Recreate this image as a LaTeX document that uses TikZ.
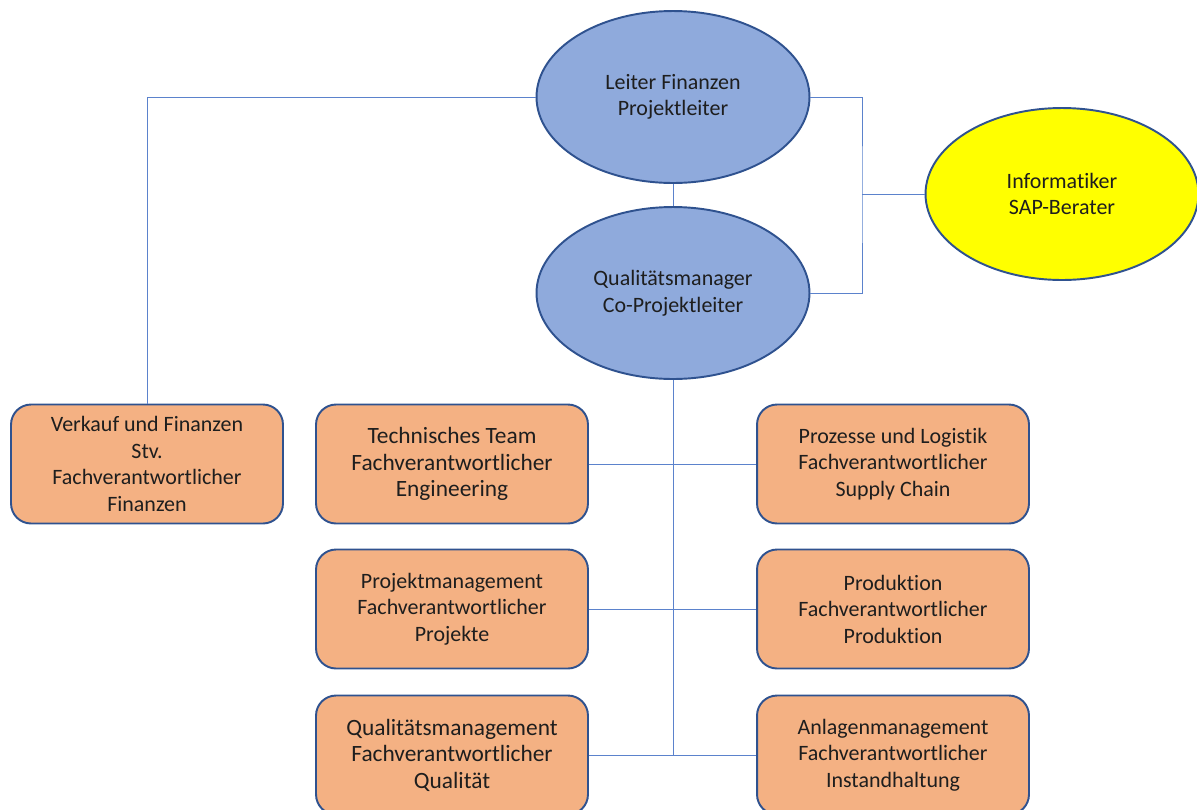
\documentclass[tikz,border=0pt]{standalone}
\usepackage{fontspec}
\setmainfont{Carlito}[Ligatures={NoCommon,NoRare,NoContextual}, Contextuals=NoAlternate]
\usepackage{tikz}
\usetikzlibrary{positioning, shapes.geometric}
\usepackage{xcolor}

\definecolor{rahmen}{HTML}{2F528F}
\definecolor{linie}{HTML}{5B82CC}
\definecolor{blaufill}{HTML}{8FAADC}
\definecolor{orangefill}{HTML}{F4B183}
\definecolor{gelbfill}{HTML}{FFFF00}
\definecolor{schrift}{HTML}{1E1E1E}

\begin{document}
\begin{tikzpicture}[x=0.02cm, y=-0.02cm,
    role/.style={ellipse, draw=rahmen, line width=1.1pt, fill=blaufill, text=schrift, minimum width=5.46cm, minimum height=3.44cm, inner sep=0pt, align=center, font=\fontsize{12.5}{15.1}\selectfont},
    team/.style={rectangle, rounded corners=0.4cm, draw=rahmen, line width=1.1pt, fill=orangefill, text=schrift, minimum width=5.44cm, minimum height=2.38cm, inner sep=0pt, align=center, font=\fontsize{12.5}{15.1}\selectfont},
    bigteam/.style={team, font=\fontsize{13.3}{15.1}\selectfont},
    link/.style={draw=linie, line width=0.5pt}]

        \clip (0,0) rectangle (1197,809);

        % Leitung (Ellipsen)
        \node[role] (leiter) at (673,97) {Leiter Finanzen\\Projektleiter};
        \node[role] (qm) at (673,293) {Qualitätsmanager\\Co-Projektleiter};
        \node[role, fill=gelbfill] (info) at (1062,194) {Informatiker\\SAP-Berater};

        % Fachverantwortliche (Boxen)
        \node[team] (verkauf) at (147,464) {Verkauf und Finanzen\\Stv.\\Fachverantwortlicher\\Finanzen};
        \node[bigteam] (technik) at (452,464) {Technisches Team\\Fachverantwortlicher\\Engineering};
        \node[team] (prozesse) at (893,464) {Prozesse und Logistik\\Fachverantwortlicher\\Supply Chain};
        \node[team] (projekt) at (452,609) {Projektmanagement\\Fachverantwortlicher\\Projekte};
        \node[team] (produktion) at (893,609) {Produktion\\Fachverantwortlicher\\Produktion};
        \node[bigteam] (qualitaet) at (452,755) {Qualitätsmanagement\\Fachverantwortlicher\\Qualität};
        \node[team] (anlagen) at (893,755) {Anlagenmanagement\\Fachverantwortlicher\\Instandhaltung};

        % Hilfspunkte
        \coordinate (rjoin) at (862,194);
        \coordinate (trunk) at (673,755);

        % Verbindungen oben
        \draw[link] (leiter.west) -| (verkauf.north);
        \draw[link] (leiter.east) -| (rjoin) |- (qm.east);
        \draw[link] (rjoin) -- (info.west);
        \draw[link] (leiter.south) -- (qm.north);

        % Stamm und Abzweige
        \draw[link] (qm.south) -- (trunk);
        \draw[link] (technik.east) -- (prozesse.west);
        \draw[link] (projekt.east) -- (produktion.west);
        \draw[link] (qualitaet.east) -- (anlagen.west);

    \end{tikzpicture}
\end{document}
